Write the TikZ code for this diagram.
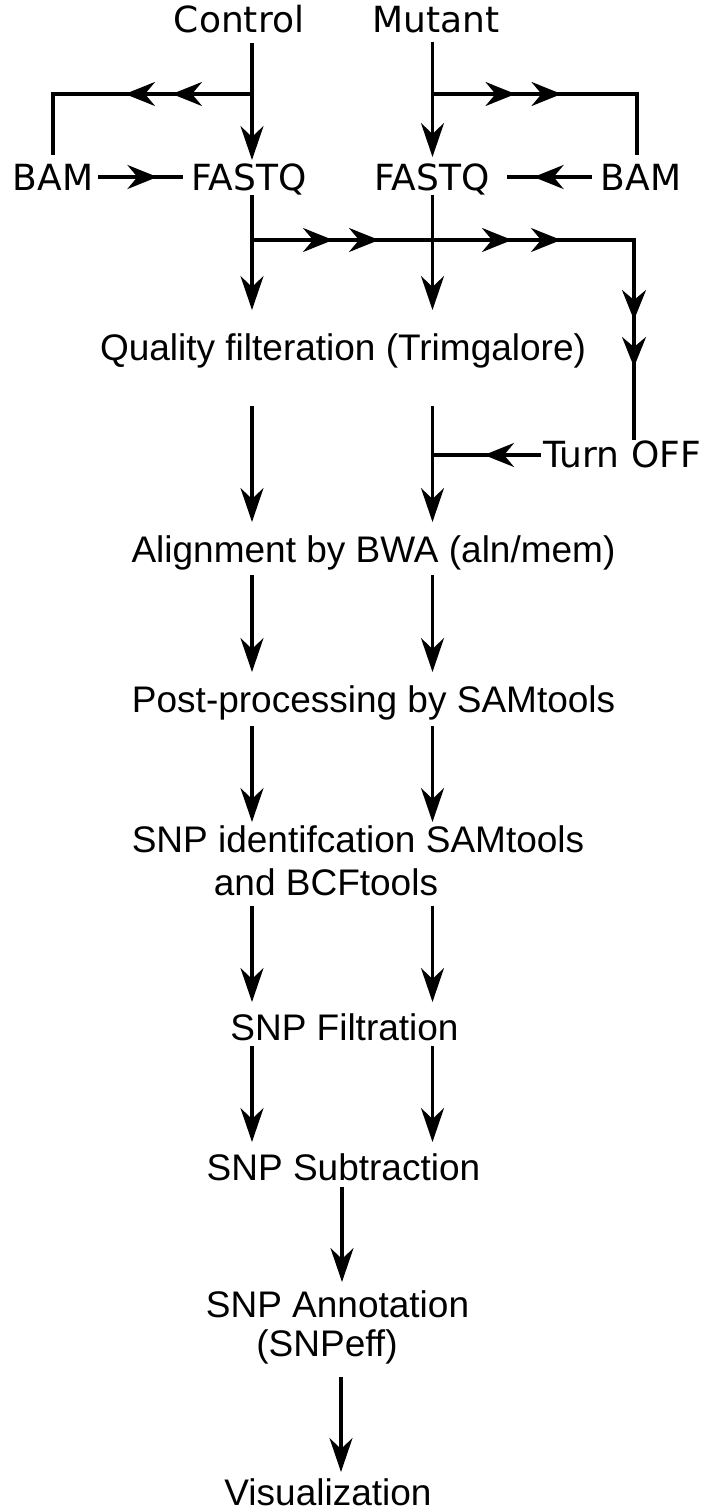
\documentclass[tikz,border=0pt]{standalone}
\usepackage{fontspec}
\setmainfont{Liberation Sans}
\newfontfamily\topfont{DejaVu Sans}
\usetikzlibrary{arrows.meta,decorations.markings,calc}
\begin{document}
\begin{tikzpicture}[x={(1pt,0)},y={(0,-1pt)}]
\tikzset{
  ln/.style={line width=3.2pt},
  arr/.style={ln,-{Stealth[length=34pt,width=23pt,inset=11pt]}},
  am/.style={postaction={decorate,decoration={markings,mark=at position #1 with {\arrow[line width=3.2pt]{Stealth[length=30pt,width=24pt,inset=10pt]}}}}},
  toplbl/.style={font={\topfont\fontsize{36}{43}\selectfont},inner sep=0pt,anchor=base},
  lbl/.style={font={\fontsize{37}{43}\selectfont},inner sep=0pt,anchor=base},
  lbltwo/.style={font={\fontsize{37}{#1}\selectfont},inner sep=0pt,anchor=north,align=center}
}
\useasboundingbox (0,0) rectangle (714,1512);
% columns
\coordinate (cL) at (252,0);
\coordinate (cR) at (432.5,0);
\coordinate (cM) at (342,0);
% top labels
\node[toplbl] (ctl) at (239,33) {Control};
\node[toplbl] (mut) at (436,33) {Mutant};
\node[toplbl] (bamL) at (53,190) {BAM};
\node[toplbl] (fqL) at (249,190) {FASTQ};
\node[toplbl] (fqR) at (432,190) {FASTQ};
\node[toplbl] (bamR) at (641,190) {BAM};
\node[toplbl] (off) at (622,467) {Turn OFF};
% pipeline labels
\node[lbl] (qual) at (343,360) {Quality filteration (Trimgalore)};
\node[lbl] (aln) at (373.5,562) {Alignment by BWA (aln/mem)};
\node[lbl] (post) at (373.6,712) {Post-processing by SAMtools};
\node[lbltwo=43] (snpid) at (358,825) {SNP identifcation SAMtools\\and BCFtools\rule{64pt}{0pt}};
\node[lbl] (filt) at (344.5,1040) {SNP Filtration};
\node[lbl] (sub) at (343.5,1180) {SNP Subtraction};
\node[lbltwo=39] (ann) at (337.5,1290) {SNP Annotation\\(SNPeff)\rule{21pt}{0pt}};
\node[lbl] (vis) at (328,1505) {Visualization};
% top connectors
\draw[arr] ($(ctl.base -| cL)+(0,10)$) -- ($(fqL.base -| cL)+(0,-30)$);
\coordinate (jL) at ($(ctl.base -| cL)+(0,61)$);
\draw[ln,am=80pt,am=127pt] (jL) -| ($(bamL.base)+(0,-35)$);
\draw[ln,am=59pt] ($(bamL.base -| bamL.east)+(5,-13)$) -- ($(fqL.base -| fqL.west)+(-8,-13)$);
\draw[arr] ($(mut.base -| cR)+(0,9)$) -- ($(fqR.base -| cR)+(0,-33)$);
\coordinate (jR) at ($(mut.base -| cR)+(0,61)$);
\draw[ln,am=83pt,am=129pt] (jR) -| ($(bamR.base)+(-4,-35)$);
\draw[ln,am=58pt] ($(bamR.base -| bamR.west)+(-9,-13)$) -- ($(fqR.base -| fqR.east)+(17,-13)$);
% FASTQ to quality
\draw[arr] ($(fqL.base -| cL)+(0,5)$) -- ($(qual.base -| cL)+(0,-50)$);
\draw[arr] ($(fqR.base -| cR)+(0,5)$) -- ($(qual.base -| cR)+(0,-50)$);
% bypass
\coordinate (jB) at ($(fqL.base -| cL)+(0,50)$);
\draw[ln,am=81pt,am=127pt,am=260pt,am=309pt,am=462pt,am=509pt] (jB) -| ($(off.base)+(12,-27)$);
\draw[ln,am=57pt] ($(off.base -| off.west)+(-2,-12)$) -- ($(off.base -| cR)+(0,-12)$);
% quality to alignment
\draw[arr] ($(qual.base -| cL)+(0,46)$) -- ($(aln.base -| cL)+(0,-40)$);
\draw[arr] ($(qual.base -| cR)+(0,46)$) -- ($(aln.base -| cR)+(0,-40)$);
% alignment to post
\draw[arr] ($(aln.base -| cL)+(0,13)$) -- ($(post.base -| cL)+(0,-40)$);
\draw[arr] ($(aln.base -| cR)+(0,13)$) -- ($(post.base -| cR)+(0,-40)$);
% post to snp id
\draw[arr] ($(post.base -| cL)+(0,14)$) -- ($(snpid.north -| cL)+(0,-3)$);
\draw[arr] ($(post.base -| cR)+(0,14)$) -- ($(snpid.north -| cR)+(0,-3)$);
% snp id to filtration
\draw[arr] ($(snpid.south -| cL)+(0,10)$) -- ($(filt.base -| cL)+(0,-38)$);
\draw[arr] ($(snpid.south -| cR)+(0,10)$) -- ($(filt.base -| cR)+(0,-38)$);
% filtration to subtraction
\draw[arr] ($(filt.base -| cL)+(0,6)$) -- ($(sub.base -| cL)+(0,-38)$);
\draw[arr] ($(filt.base -| cR)+(0,6)$) -- ($(sub.base -| cR)+(0,-38)$);
% subtraction to annotation to visualization
\draw[arr] ($(sub.base -| cM)+(0,7)$) -- ($(ann.north -| cM)+(0,-8)$);
\draw[arr] ($(ann.south -| cM)+(-1,13)$) -- ($(vis.base -| cM)+(-1,-33)$);
\end{tikzpicture}
\end{document}
